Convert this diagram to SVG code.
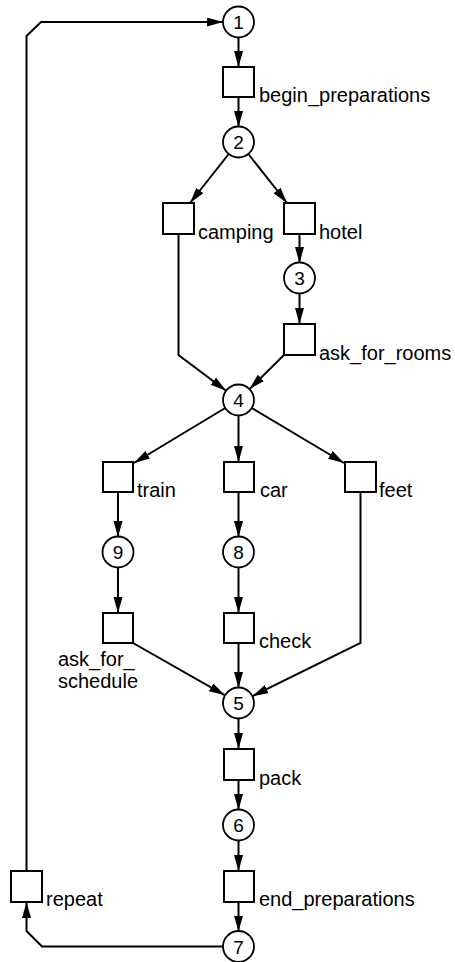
<svg xmlns="http://www.w3.org/2000/svg" width="455" height="962" viewBox="0 0 455 962">
  <defs>
    <marker id="arrow" markerUnits="userSpaceOnUse" markerWidth="17" markerHeight="10" refX="16" refY="4.5" orient="auto">
      <path d="M0,0 L16,4.5 L0,9 z" fill="#000"/>
    </marker>
    <style>
      .place { fill: #fff; stroke: #000; stroke-width: 1.8; }
      .trans { fill: #fff; stroke: #000; stroke-width: 2; }
      .num { font-family: "Liberation Sans", Arial, sans-serif; font-size: 19px; text-anchor: middle; fill: #000; }
      .lbl { font-family: "Liberation Sans", Arial, sans-serif; font-size: 20px; fill: #000; }
      .arc { fill: none; stroke: #000; stroke-width: 2; }
      .arc.a { marker-end: url(#arrow); }
    </style>
  </defs>
  <rect width="455" height="962" fill="#fff"/>

  <!-- connectors -->
  <g id="connectors">
    <path class="arc a" d="M26.5,871 L26.5,36 L41,22 L223,22"/>
    <path class="arc a" d="M238.5,37.5 L238.5,67"/>
    <path class="arc a" d="M238.5,97 L238.5,127"/>
    <path class="arc a" d="M228.7,154 L190,203"/>
    <path class="arc a" d="M248.3,154 L287,203"/>
    <path class="arc a" d="M299.5,234 L299.5,263"/>
    <path class="arc a" d="M299.5,293 L299.5,324"/>
    <path class="arc a" d="M178.5,234 L178.5,355 L226.1,390.7"/>
    <path class="arc a" d="M284,355 L249.5,389.1"/>
    <path class="arc a" d="M225.2,408 L134,463"/>
    <path class="arc a" d="M238.5,415.5 L238.5,462"/>
    <path class="arc a" d="M251.8,408 L344,463"/>
    <path class="arc a" d="M118,492 L118,537"/>
    <path class="arc a" d="M118,567 L118,613"/>
    <path class="arc a" d="M238.5,492 L238.5,537"/>
    <path class="arc a" d="M238.5,567 L238.5,613"/>
    <path class="arc a" d="M133,643 L225,695.3"/>
    <path class="arc a" d="M238.5,643 L238.5,688"/>
    <path class="arc a" d="M360.5,492 L360.5,643 L252.4,696.2"/>
    <path class="arc a" d="M238.5,718.5 L238.5,749"/>
    <path class="arc a" d="M238.5,780 L238.5,810"/>
    <path class="arc a" d="M238.5,840 L238.5,871"/>
    <path class="arc a" d="M238.5,902 L238.5,931.5"/>
    <path class="arc a" d="M223,946.5 L42,946.5 L26.5,931 L26.5,902"/>
  </g>

  <!-- places -->
  <g id="p1"><circle class="place" cx="238.5" cy="22" r="15.5"/><text class="num" x="238.5" y="29">1</text></g>
  <g id="p2"><circle class="place" cx="238.5" cy="142" r="15.5"/><text class="num" x="238.5" y="149">2</text></g>
  <g id="p3"><circle class="place" cx="299.5" cy="278" r="15.5"/><text class="num" x="299.5" y="285">3</text></g>
  <g id="p4"><circle class="place" cx="238.5" cy="400" r="15.5"/><text class="num" x="238.5" y="407">4</text></g>
  <g id="p9"><circle class="place" cx="118" cy="552" r="15.5"/><text class="num" x="118" y="559">9</text></g>
  <g id="p8"><circle class="place" cx="238.5" cy="552" r="15.5"/><text class="num" x="238.5" y="559">8</text></g>
  <g id="p5"><circle class="place" cx="238.5" cy="703" r="15.5"/><text class="num" x="238.5" y="710">5</text></g>
  <g id="p6"><circle class="place" cx="238.5" cy="825" r="15.5"/><text class="num" x="238.5" y="832">6</text></g>
  <g id="p7"><circle class="place" cx="238.5" cy="946.5" r="15.5"/><text class="num" x="238.5" y="953.5">7</text></g>

  <!-- transitions -->
  <g id="begin_preparations"><rect class="trans" x="223" y="67" width="31" height="30"/><text class="lbl" x="259" y="102">begin_preparations</text></g>
  <g id="camping"><rect class="trans" x="163" y="203" width="31" height="31"/><text class="lbl" x="198" y="239">camping</text></g>
  <g id="hotel"><rect class="trans" x="284" y="203" width="31" height="31"/><text class="lbl" x="319" y="239">hotel</text></g>
  <g id="ask_for_rooms"><rect class="trans" x="284" y="324" width="31" height="31"/><text class="lbl" x="319" y="360">ask_for_rooms</text></g>
  <g id="train"><rect class="trans" x="103" y="462" width="30" height="30"/><text class="lbl" x="137" y="497">train</text></g>
  <g id="car"><rect class="trans" x="224" y="462" width="30" height="30"/><text class="lbl" x="260" y="497">car</text></g>
  <g id="feet"><rect class="trans" x="345" y="462" width="31" height="30"/><text class="lbl" x="379" y="497">feet</text></g>
  <g id="ask_for_schedule"><rect class="trans" x="103" y="613" width="30" height="30"/><text class="lbl" x="58" y="666">ask_for_</text><text class="lbl" x="58" y="688">schedule</text></g>
  <g id="check"><rect class="trans" x="224" y="613" width="30" height="30"/><text class="lbl" x="259" y="648">check</text></g>
  <g id="pack"><rect class="trans" x="224" y="749" width="30" height="31"/><text class="lbl" x="259" y="785">pack</text></g>
  <g id="end_preparations"><rect class="trans" x="224" y="871" width="30" height="31"/><text class="lbl" x="259" y="906">end_preparations</text></g>
  <g id="repeat"><rect class="trans" x="11" y="871" width="31" height="31"/><text class="lbl" x="46" y="906">repeat</text></g>
</svg>
